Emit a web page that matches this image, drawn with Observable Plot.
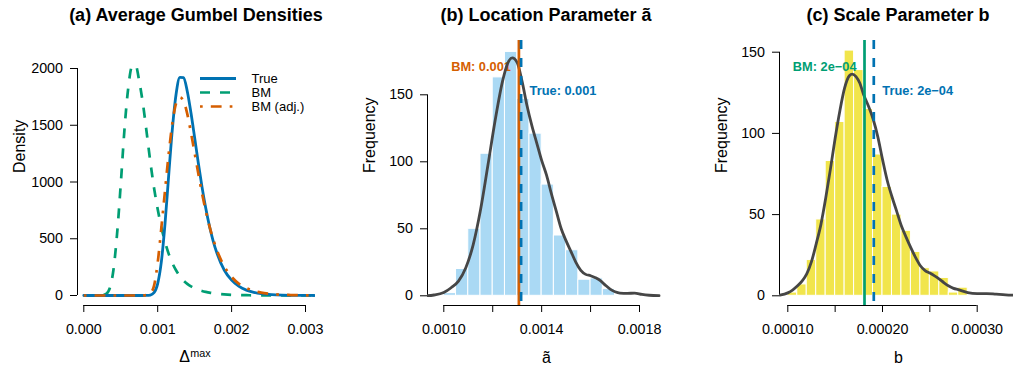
<!DOCTYPE html>
<html><head><meta charset="utf-8">
<script src="https://cdn.jsdelivr.net/npm/d3@7"></script>
<script src="https://cdn.jsdelivr.net/npm/@observablehq/plot@0.6"></script>
<style>
html,body{margin:0;padding:0;background:#fff;overflow:hidden;}
#root{position:relative;width:1013px;height:374px;overflow:hidden;font-family:"Liberation Sans",Arial,Helvetica,sans-serif;}
.panel{position:absolute;top:0;width:351px;height:374px;}
.ptitle{position:absolute;top:0;left:0;width:392px;height:30px;line-height:30px;text-align:center;font-weight:bold;font-size:18px;color:#000;white-space:nowrap;}
.panel svg{position:absolute;top:32px;left:0;}
</style></head><body><div id="root"></div>
<script>
// ---------- DATA ----------
// (a) average Gumbel densities
const deltaGrid = [0, 0.0001, 0.0002, 0.0003, 0.00035, 0.0004, 0.00045, 0.0005, 0.00055, 0.0006, 0.00065, 0.0007, 0.00075, 0.0008, 0.00085, 0.0009, 0.00095, 0.001, 0.00105, 0.0011, 0.00115, 0.0012, 0.00125, 0.0013, 0.00135, 0.0014, 0.00145, 0.0015, 0.00155, 0.0016, 0.00165, 0.0017, 0.00175, 0.0018, 0.0019, 0.002, 0.0021, 0.0022, 0.0023, 0.0024, 0.0025, 0.0026, 0.0028, 0.003, 0.00312];
const densTrue = [0, 0, 0, 0, 0, 0, 0, 0, 0, 0, 0, 0, 0, 0, 0.4, 4, 25, 105, 300, 640, 1070, 1480, 1780, 1922, 1920, 1800, 1610, 1390, 1165, 955, 770, 612, 482, 376, 225, 135, 80, 47, 28, 16, 9, 5, 1.5, 0.5, 0.2];
const densBM = [0, 0, 0.2, 14, 62, 220, 540, 980, 1460, 1820, 2015, 2030, 1890, 1690, 1440, 1180, 950, 760, 600, 470, 365, 283, 220, 170, 131, 102, 80, 63, 50, 40, 32, 25, 20, 16, 10, 6, 4, 2.5, 1.5, 1, 0.6, 0.3, 0.1, 0, 0];
const densBMadj = [0, 0, 0, 0, 0, 0, 0, 0, 0, 0, 0, 0, 0, 0.5, 4, 20, 85, 290, 600, 930, 1255, 1525, 1695, 1745, 1715, 1600, 1435, 1255, 1072, 900, 746, 612, 498, 402, 258, 164, 103, 65, 40, 25, 16, 10, 4, 1.5, 0.8];
const seriesNames = ["True", "BM", "BM (adj.)"];
const deltaTicks = [0, 0.001, 0.002, 0.003];
const deltaTickLabels = ["0.000", "0.001", "0.002", "0.003"];
const densityTicks = [0, 500, 1000, 1500, 2000];
const densityTickLabels = ["0", "500", "1000", "1500", "2000"];

// (b) location parameter histogram
const locBreaks = [0.00100, 0.00105, 0.00110, 0.00115, 0.00120, 0.00125, 0.00130, 0.00135, 0.00140, 0.00145, 0.00150, 0.00155, 0.00160, 0.00165, 0.00170];
const locCounts = [2, 20, 50, 106, 163, 182, 147, 121, 83, 45, 34, 12, 13, 5];
const locKdeX = [0.000925, 0.00096, 0.00100, 0.00103, 0.00106, 0.00109, 0.00112, 0.00115, 0.00118, 0.00121, 0.00124, 0.00126, 0.00128, 0.00130, 0.00132, 0.00134, 0.00136, 0.00138, 0.00140, 0.00142, 0.00144, 0.00146, 0.00148, 0.00150, 0.00152, 0.00154, 0.00156, 0.00158, 0.00160, 0.00162, 0.00164, 0.00166, 0.00168, 0.00170, 0.00172, 0.00175, 0.00178, 0.00181, 0.00184, 0.00188];
const locKdeY = [0, 0.6, 2.5, 6, 11, 21, 38, 64, 97, 131, 160, 173, 177.5, 174, 160, 142, 127, 114, 101, 90, 76, 63, 50, 41, 33, 25, 19, 16, 15, 13.5, 11.4, 8, 5, 3, 2, 1.8, 2, 1, 0.4, 0.1];
const locBM = 0.001307;
const locTrue = 0.001316;
const locLabels = ["BM: 0.001", "True: 0.001"];
const locTicks = [0.0010, 0.0012, 0.0014, 0.0016, 0.0018];
const locTickLabels = ["0.0010", "", "0.0014", "", "0.0018"];

// (c) scale parameter histogram
const scaleBreaks = [0.00010, 0.00011, 0.00012, 0.00013, 0.00014, 0.00015, 0.00016, 0.00017, 0.00018, 0.00019, 0.00020, 0.00021, 0.00022, 0.00023, 0.00024, 0.00025, 0.00026, 0.00027, 0.00028, 0.00029];
const scaleCounts = [2, 7, 22, 47, 83, 107, 151, 139, 115, 87, 67, 50, 40, 27, 17, 15, 11, 2, 5];
const scaleKdeX = [0.0000916, 0.000100, 0.000105, 0.000110, 0.000115, 0.000120, 0.000125, 0.000130, 0.000135, 0.000140, 0.000145, 0.000150, 0.000155, 0.000160, 0.000165, 0.000168, 0.000172, 0.000176, 0.000180, 0.000185, 0.000190, 0.000195, 0.000200, 0.000205, 0.000210, 0.000215, 0.000220, 0.000225, 0.000230, 0.000235, 0.000240, 0.000245, 0.000250, 0.000255, 0.000260, 0.000265, 0.000270, 0.000275, 0.000280, 0.000290, 0.000300, 0.000310, 0.000320, 0.000330, 0.000340];
const scaleKdeY = [0.4, 1.8, 3.5, 6, 9, 13.5, 21, 32, 44, 60, 78, 97, 114, 128, 135.5, 136.5, 135, 131, 124, 117, 109, 98, 84, 71, 61, 52, 43, 36, 29.5, 23.5, 18.5, 15.5, 14, 12.3, 10.3, 8, 6, 4.6, 3.8, 2, 1.4, 1.4, 1, 0.6, 0.4];
const scaleBM = 0.000181;
const scaleTrue = 0.0001908;
const scaleLabels = ["BM: 2e\u221204", "True: 2e\u221204"];
const scaleTicks = [0.00010, 0.00015, 0.00020, 0.00025, 0.00030];
const scaleTickLabels = ["0.00010", "", "0.00020", "", "0.00030"];

const freqTicks = [0, 50, 100, 150];
const freqTickLabels = ["0", "50", "100", "150"];

const titles = ["(a) Average Gumbel Densities", "(b) Location Parameter \u00e3", "(c) Scale Parameter b"];

// ---------- STYLE ----------
const FONT = '"Liberation Sans", Arial, Helvetica, sans-serif';
const BLUE = "#0072B2", GREEN = "#009E73", ORANGE = "#D55E00", GREY = "#464646";
const DASH = "10,10", DOTDASH = "2.7,8.1,10.8,8.1", VDASH = "9,9";
const W = 351, H = 342, ML = 77, MR = 36, MT = 8, MB = 69;
const panelLeft = [0, 350, 702];

function inv(dom, rng, px) { return dom[0] + (px - rng[0]) * (dom[1] - dom[0]) / (rng[1] - rng[0]); }

function axes(xs, ys, xTicks, xLabels, yTicks, yLabels) {
  const yb = inv(ys.domain, ys.range, H - MB);
  const xl = inv(xs.domain, xs.range, ML);
  return [
    Plot.ruleY([yb], {x1: xTicks[0], x2: xTicks[xTicks.length - 1], stroke: "#000", strokeWidth: 1}),
    Plot.ruleX([xl], {y1: yTicks[0], y2: yTicks[yTicks.length - 1], stroke: "#000", strokeWidth: 1}),
    Plot.axisX({ticks: xTicks, tickFormat: d => xLabels[xTicks.indexOf(d)], tickSize: 7, tickPadding: 11, label: null, fontSize: 14.3, stroke: "#000", fill: "#000"}),
    Plot.axisY({ticks: yTicks, tickFormat: d => yLabels[yTicks.indexOf(d)], tickSize: 7, tickPadding: 7.5, label: null, fontSize: 14.3, stroke: "#000", fill: "#000"})
  ];
}

function yTitle(t) {
  return Plot.text([t], {text: d => d, frameAnchor: "left", dx: -58, rotate: -90, fontSize: 16, fill: "#000"});
}

function makePanel(i, plot) {
  const div = document.createElement("div");
  div.className = "panel";
  div.style.left = panelLeft[i] + "px";
  const t = document.createElement("div");
  t.className = "ptitle";
  t.textContent = titles[i];
  div.appendChild(t);
  div.appendChild(plot);
  document.getElementById("root").appendChild(div);
}

const common = {
  width: W, height: H, marginLeft: ML, marginRight: MR, marginTop: MT, marginBottom: MB,
  style: {fontFamily: FONT, fontSize: "14.3px", color: "#000", background: "transparent", overflow: "visible"}
};

// ---------- PANEL A ----------
{
  const xs = {domain: [0, 0.003], range: [83.3, 305]};
  const ys = {domain: [0, 2000], range: [263, 36]};
  const rows = deltaGrid.map((x, i) => ({x, t: densTrue[i], bm: densBM[i], adj: densBMadj[i]}));
  const legRowPx = [46, 60, 74];
  const legY = legRowPx.map(p => inv(ys.domain, ys.range, p));
  const lx1 = inv(xs.domain, xs.range, 200), lx2 = inv(xs.domain, xs.range, 236), ltx = inv(xs.domain, xs.range, 251);
  const plot = Plot.plot({
    ...common,
    x: xs, y: ys,
    marks: [
      ...axes(xs, ys, deltaTicks, deltaTickLabels, densityTicks, densityTickLabels),
      Plot.line(rows, {x: "x", y: "bm", stroke: GREEN, strokeWidth: 2.7, strokeDasharray: DASH, strokeLinecap: "butt", curve: "monotone-x", clip: true}),
      Plot.line(rows, {x: "x", y: "t", stroke: BLUE, strokeWidth: 2.8, curve: "monotone-x", clip: true}),
      Plot.line(rows, {x: "x", y: "adj", stroke: ORANGE, strokeWidth: 2.7, strokeDasharray: DOTDASH, strokeLinecap: "butt", curve: "monotone-x", clip: true}),
      Plot.ruleY([legY[0]], {x1: lx1, x2: lx2, stroke: BLUE, strokeWidth: 2.8}),
      Plot.ruleY([legY[1]], {x1: lx1, x2: lx2, stroke: GREEN, strokeWidth: 2.7, strokeDasharray: DASH}),
      Plot.ruleY([legY[2]], {x1: lx1, x2: lx2, stroke: ORANGE, strokeWidth: 2.7, strokeDasharray: DOTDASH}),
      Plot.text(seriesNames, {x: ltx, y: (d, i) => legY[i], text: d => d, textAnchor: "start", fontSize: 13, fill: "#000"}),
      yTitle("Density"),
      Plot.text(["\u0394"], {text: d => d, frameAnchor: "bottom", dx: -12, dy: 56.5, fontSize: 16, fill: "#000"}),
      Plot.text(["max"], {text: d => d, frameAnchor: "bottom", dx: 4, dy: 51, fontSize: 10.8, fill: "#000"})
    ]
  });
  makePanel(0, plot);
}

// ---------- PANEL B ----------
{
  const xs = {domain: [0.001, 0.0018], range: [93.3, 289]};
  const ys = {domain: [0, 150], range: [263.3, 62.3]};
  const bins = locCounts.map((n, i) => ({x1: locBreaks[i], x2: locBreaks[i + 1], n}));
  const kde = locKdeX.map((x, i) => ({x, y: locKdeY[i]}));
  const plot = Plot.plot({
    ...common,
    x: xs, y: ys,
    marks: [
      ...axes(xs, ys, locTicks, locTickLabels, freqTicks, freqTickLabels),
      Plot.rect(bins, {x1: "x1", x2: "x2", y1: 0, y2: "n", fill: "#56B4E9", fillOpacity: 0.5, stroke: "#fff", strokeWidth: 1}),
      Plot.text([locLabels[0]], {x: locBM, text: d => d, frameAnchor: "top", dy: 21, dx: -8, textAnchor: "end", fill: ORANGE, fontWeight: "bold", fontSize: 12.8}),
      Plot.text([locLabels[1]], {x: locTrue, text: d => d, frameAnchor: "top", dy: 45, dx: 8.5, textAnchor: "start", fill: BLUE, fontWeight: "bold", fontSize: 12.8}),
      Plot.line(kde, {x: "x", y: "y", stroke: GREY, strokeWidth: 2.8, curve: "monotone-x", clip: true}),
      Plot.ruleX([locBM], {stroke: ORANGE, strokeWidth: 2.7}),
      Plot.ruleX([locTrue], {stroke: BLUE, strokeWidth: 2.7, strokeDasharray: VDASH}),
      yTitle("Frequency"),
      Plot.text(["\u00e3"], {text: d => d, frameAnchor: "bottom", dy: 57.4, fontSize: 16, fill: "#000"})
    ]
  });
  makePanel(1, plot);
}

// ---------- PANEL C ----------
{
  const xs = {domain: [0.0001, 0.0003], range: [85.3, 274.7]};
  const ys = {domain: [0, 150], range: [263.3, 19.7]};
  const bins = scaleCounts.map((n, i) => ({x1: scaleBreaks[i], x2: scaleBreaks[i] + (scaleBreaks[1] - scaleBreaks[0]), n}));
  const kde = scaleKdeX.map((x, i) => ({x, y: scaleKdeY[i]}));
  const plot = Plot.plot({
    ...common,
    x: xs, y: ys,
    marks: [
      ...axes(xs, ys, scaleTicks, scaleTickLabels, freqTicks, freqTickLabels),
      Plot.rect(bins, {x1: "x1", x2: "x2", y1: 0, y2: "n", fill: "#F0E442", fillOpacity: 0.95, stroke: "#fff", strokeWidth: 1}),
      Plot.text([scaleLabels[0]], {x: scaleBM, text: d => d, frameAnchor: "top", dy: 21, dx: -8, textAnchor: "end", fill: GREEN, fontWeight: "bold", fontSize: 12.8}),
      Plot.text([scaleLabels[1]], {x: scaleTrue, text: d => d, frameAnchor: "top", dy: 45, dx: 8.5, textAnchor: "start", fill: BLUE, fontWeight: "bold", fontSize: 12.8}),
      Plot.line(kde, {x: "x", y: "y", stroke: GREY, strokeWidth: 2.8, curve: "monotone-x", clip: true}),
      Plot.ruleX([scaleBM], {stroke: GREEN, strokeWidth: 2.7}),
      Plot.ruleX([scaleTrue], {stroke: BLUE, strokeWidth: 2.7, strokeDasharray: VDASH}),
      yTitle("Frequency"),
      Plot.text(["b"], {text: d => d, frameAnchor: "bottom", dy: 57.4, fontSize: 16, fill: "#000"})
    ]
  });
  makePanel(2, plot);
}
</script>
</body></html>
